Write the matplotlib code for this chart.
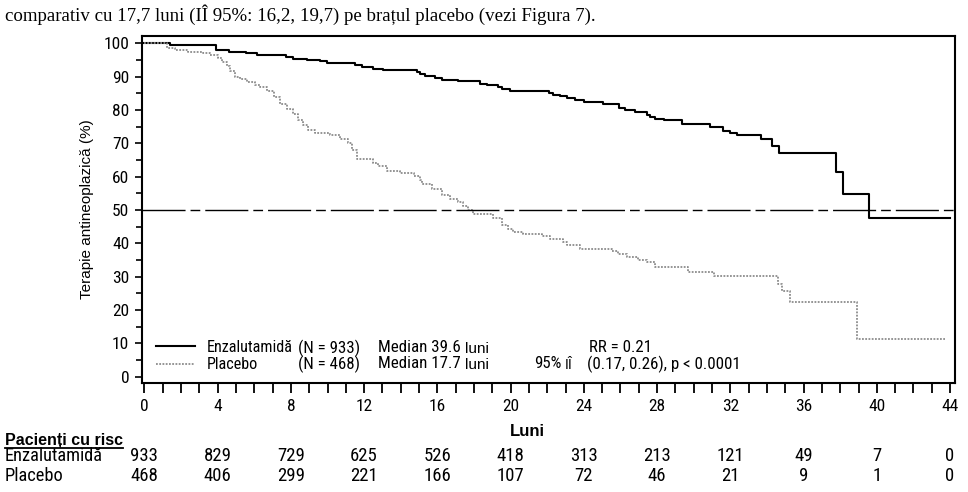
import matplotlib
matplotlib.use("Agg")
import matplotlib.pyplot as plt
from matplotlib.lines import Line2D
from matplotlib import font_manager
from matplotlib.font_manager import FontProperties

# Kaplan-Meier steps (months, % still without new therapy)
enza_t = [0, 1.37, 3.9, 4.6, 5.55, 6.14, 7.72, 8.12, 8.87, 9.6, 9.96, 11.14, 11.5,
          11.87, 12.5, 13.05, 14.9, 15.06, 15.33, 15.88, 16.24, 17.15, 18.33, 18.7,
          19.33, 19.52, 19.97, 22.07, 22.3, 22.7, 23.07, 23.5, 23.98, 24.5, 25.07,
          25.9, 26.25, 26.8, 27.44, 27.6, 27.9, 28.35, 29.35, 30.9, 31.6, 32.0,
          32.35, 33.67, 34.27, 34.67, 37.78, 38.15, 39.6, 44.0]
enza_s = [100, 99.5, 97.9, 97.5, 97.0, 96.6, 95.8, 95.3, 95.0, 94.6, 94.2, 94.0, 93.4,
          92.8, 92.4, 92.0, 91.4, 90.7, 90.1, 89.5, 89.1, 88.7, 87.9, 87.5,
          87.0, 86.3, 85.8, 85.1, 84.6, 84.2, 83.5, 83.0, 82.5, 82.3, 81.7,
          80.6, 80.1, 79.5, 78.4, 77.8, 77.4, 77.0, 75.8, 74.9, 73.8, 73.1,
          72.4, 71.3, 69.3, 67.0, 61.4, 54.7, 47.5, 47.5]

plac_t = [0, 1.22, 1.68, 2.4, 3.22, 3.59, 4.04, 4.23, 4.5, 4.68, 4.95, 5.23, 5.59,
          6.05, 6.32, 6.68, 7.05, 7.41, 7.78, 8.14, 8.41, 8.68, 8.96, 9.32, 10.14,
          10.69, 11.14, 11.33, 11.6, 12.5, 12.78, 13.24, 13.97, 14.7, 15.06, 15.15,
          15.7, 16.24, 16.7, 17.15, 17.42, 17.69, 17.97, 19.06, 19.52, 19.88, 20.15,
          20.7, 21.7, 22.16, 22.88, 23.07, 23.8, 25.53, 25.89, 26.35, 26.98, 27.44,
          27.9, 29.7, 31.08, 34.63, 34.8, 35.27, 38.9, 43.7]
plac_s = [100, 98.5, 98.0, 97.5, 97.1, 96.6, 95.6, 94.4, 93.1, 91.7, 89.9, 89.2, 88.4,
          87.5, 86.8, 85.6, 84.0, 81.9, 80.4, 78.7, 77.0, 75.5, 74.0, 73.0, 72.5,
          71.3, 70.1, 68.1, 65.4, 64.2, 63.2, 61.8, 61.1, 60.3, 59.1, 57.8,
          56.4, 54.6, 53.4, 52.5, 51.3, 50.0, 48.7, 47.5, 45.6, 44.4, 43.5,
          42.8, 42.3, 41.3, 40.3, 39.5, 38.3, 37.8, 36.8, 35.8, 35.1, 34.3,
          32.8, 31.5, 30.1, 27.8, 25.8, 22.3, 11.2, 11.2]

risk_months = [0, 4, 8, 12, 16, 20, 24, 28, 32, 36, 40, 44]
risk_enza = [933, 829, 729, 625, 526, 418, 313, 213, 121, 49, 7, 0]
risk_plac = [468, 406, 299, 221, 166, 107, 72, 46, 21, 9, 1, 0]

# look for a condensed sans face (the original uses Arial Narrow style text)
cond_file = None
pref = ['Liberation Sans Narrow', 'Arial Narrow', 'Roboto Condensed',
        'DejaVu Sans Condensed', 'Noto Sans Condensed', 'Open Sans Condensed']
cands = []
for f in font_manager.fontManager.ttflist:
    low = (f.name + ' ' + f.fname).lower()
    if ('narrow' in low or 'condensed' in low or f.stretch in ('condensed', 'semi-condensed')) \
            and 'bold' not in low and 'italic' not in low and 'oblique' not in low \
            and 'semi' not in low and 'extra' not in low and 'light' not in low \
            and 'medium' not in low and 'black' not in low and 'thin' not in low \
            and f.weight in (400, 'normal', 'regular'):
        cands.append(f)
cands.sort(key=lambda f: min([i for i, p in enumerate(pref)
                              if p.split()[0].lower() in f.name.lower()] or [99]))
if cands:
    cond_file = cands[0].fname


def narrow(size):
    if cond_file:
        return FontProperties(fname=cond_file, size=size)
    return FontProperties(family='Liberation Sans', size=size * 0.86)


def arial(size, weight='normal'):
    return FontProperties(family='Liberation Sans', size=size, weight=weight)


W, H = 968, 492
fig = plt.figure(figsize=(W / 100, H / 100), dpi=100)


def fx(px):
    return px / W


def fy(py):
    return 1 - py / H


ax = fig.add_axes([fx(141.7), fy(383), fx(955) - fx(141.7), fy(36) - fy(383)])

ax.step(enza_t, enza_s, where='post', color='black', lw=1.5)
ax.step(plac_t, plac_s, where='post', color='#8c8c8c', lw=1.3, ls=(0, (1, 0.8)))
ax.axhline(50, color='black', lw=1.0, ls=(0, (31, 3.6, 7, 3.6)))

ax.set_xlim(-0.15, 44.27)
ax.set_ylim(-1.9, 102.2)
ax.set_xticks(range(0, 45, 4))
ax.set_xticks(range(0, 45), minor=True)
ax.set_yticks(range(0, 101, 10))
ax.set_yticks(range(5, 100, 10), minor=True)
ax.tick_params(axis='x', which='both', direction='out', length=7.2, width=1.3, pad=4.5)
ax.tick_params(axis='y', which='major', direction='out', length=5, width=1.2, pad=4)
ax.tick_params(axis='y', which='minor', direction='out', length=4, width=1.2)
for lab in ax.get_xticklabels() + ax.get_yticklabels():
    lab.set_fontproperties(narrow(12.5))
for s in ax.spines.values():
    s.set_linewidth(1.5)

ax.set_ylabel('Terapie antineoplazică (%)', fontproperties=arial(11), labelpad=7)
fig.text(fx(527), fy(431), 'Luni', fontproperties=arial(12, 'bold'),
         ha='center', va='center')

# key and statistics inside the plot
leg = ax.legend([Line2D([], [], color='black', lw=1.5),
                 Line2D([], [], color='#8c8c8c', lw=1.3, ls=(0, (1, 0.8)))],
                ['Enzalutamidă', 'Placebo'], loc='center left', frameon=False,
                prop=narrow(11.6), handlelength=2.45, handletextpad=0.72,
                labelspacing=0.15, borderpad=0, borderaxespad=0)
leg.set_bbox_to_anchor((fx(156), (fy(348) + fy(364)) / 2), transform=fig.transFigure)

leg_fp = narrow(12.2)
fig.text(fx(298), fy(348), '(N = 933)', fontproperties=leg_fp, va='center')
fig.text(fx(298), fy(364), '(N = 468)', fontproperties=leg_fp, va='center')
fig.text(fx(378), fy(348), 'Median 39.6', fontproperties=leg_fp, va='center')
fig.text(fx(378), fy(364), 'Median 17.7', fontproperties=leg_fp, va='center')
fig.text(fx(465), fy(349), 'luni', fontproperties=arial(11), va='center')
fig.text(fx(465), fy(365), 'luni', fontproperties=arial(11), va='center')
fig.text(fx(589), fy(348), 'RR = 0.21', fontproperties=leg_fp, va='center')
fig.text(fx(534), fy(364), '95%', fontproperties=leg_fp, va='center')
fig.text(fx(565), fy(365), 'IÎ', fontproperties=arial(10), va='center')
fig.text(fx(587), fy(364), '(0.17, 0.26), p < 0.0001', fontproperties=leg_fp,
         va='center')

# text line above the figure
fig.text(fx(5), fy(15), 'comparativ cu 17,7 luni (IÎ 95%: 16,2, 19,7) pe brațul placebo '
         '(vezi Figura 7).', fontsize=13.6, va='center',
         family=['Liberation Serif', 'DejaVu Serif'])

# numbers at risk
hdr = fig.text(fx(5), fy(440), 'Pacienți cu risc', fontproperties=arial(11.5, 'bold'),
               va='center')
fig.text(fx(5), fy(456), 'Enzalutamidă', fontproperties=narrow(13.2), va='center')
fig.text(fx(5), fy(476), 'Placebo', fontproperties=narrow(13.2), va='center')
for m, a, b in zip(risk_months, risk_enza, risk_plac):
    xf = fx(144.3 + m * 18.31)
    fig.text(xf, fy(456), str(a), fontproperties=narrow(13.5), ha='center', va='center')
    fig.text(xf, fy(476), str(b), fontproperties=narrow(13.5), ha='center', va='center')

fig.canvas.draw()
bb = hdr.get_window_extent()
fig.add_artist(Line2D([bb.x0 / W, bb.x1 / W], [(bb.y0 - 0.5) / H, (bb.y0 - 0.5) / H],
                      transform=fig.transFigure, color='black', lw=1.3))

fig.savefig('out.png', dpi=100)
